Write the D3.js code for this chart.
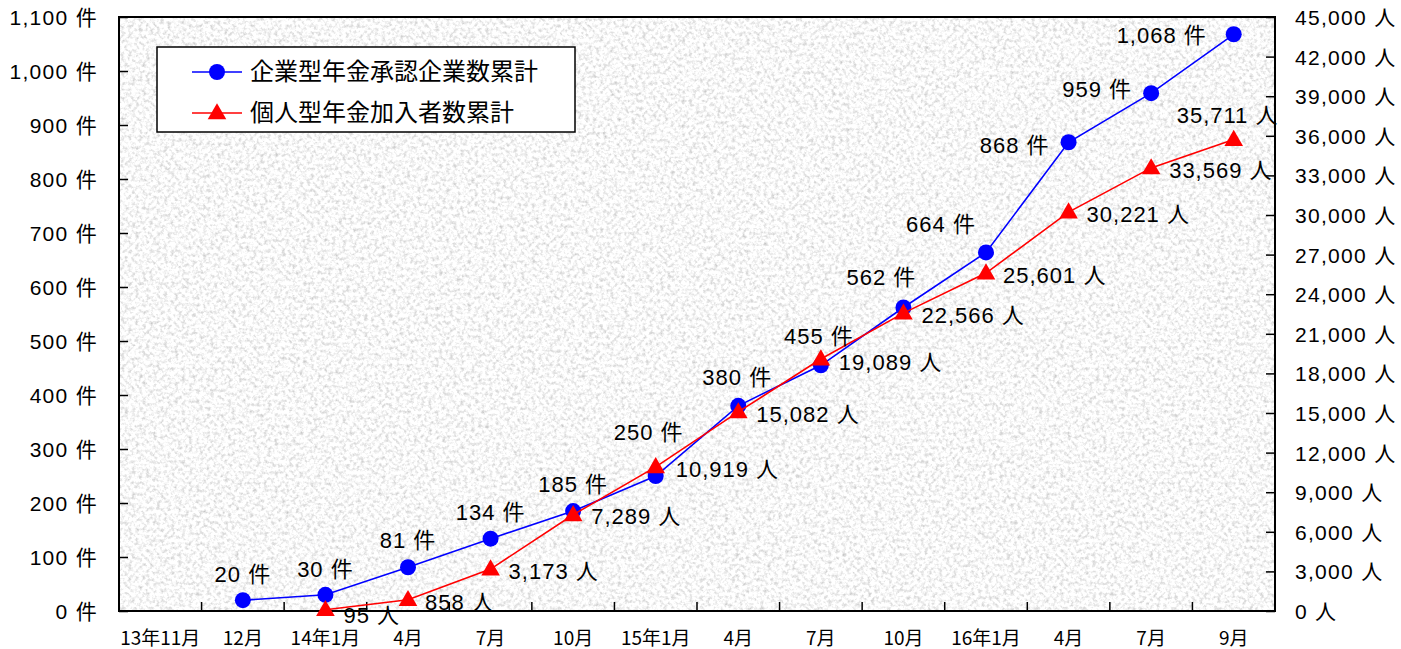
<!DOCTYPE html>
<html>
<head>
<meta charset="utf-8">
<script src="https://cdn.jsdelivr.net/npm/d3@7"></script>
<style>
  body { margin: 0; background: #fff; }
  svg text { font-family: "Liberation Sans", Arial, "Noto Sans CJK JP", sans-serif; fill: #000; }
</style>
</head>
<body>
<div id="chart"></div>
<script>
const categories = ["13年11月", "12月", "14年1月", "4月", "7月", "10月", "15年1月", "4月", "7月", "10月", "16年1月", "4月", "7月", "9月"];
// 企業型年金承認企業数累計 (件)
const companyCounts = [null, 20, 30, 81, 134, 185, 250, 380, 455, 562, 664, 868, 959, 1068];
// 個人型年金加入者数累計 (人)
const memberCounts = [null, null, 95, 858, 3173, 7289, 10919, 15082, 19089, 22566, 25601, 30221, 33569, 35711];

const leftTicks = [0, 100, 200, 300, 400, 500, 600, 700, 800, 900, 1000, 1100];
const rightTicks = [0, 3000, 6000, 9000, 12000, 15000, 18000, 21000, 24000, 27000, 30000, 33000, 36000, 39000, 42000, 45000];

const seriesNames = ["企業型年金承認企業数累計", "個人型年金加入者数累計"];

// label nudges (dx, dy) relative to the point, per category
const companyLabelShift = [null, [0, -18], [0, -18], [0, -19], [0, -19], [0, -19], [-7, -36], [-1, -21], [-2, -21],
  [-22, -23], [-45, -20], [-54, 11], [-54, 4], [-72, 9]];
const memberLabelShift = [null, null, [18, 13], [17, 10], [18, 10], [18, 9], [20, 10], [18, 10], [18, 11],
  [18, 10], [17, 10], [18, 10], [18, 10], [-57, -17]];

const width = 1401, height = 649;
const plotL = 119, plotR = 1275, plotT = 17, plotB = 611;

const fmt = d3.format(",");

const svg = d3.select("#chart").append("svg")
  .attr("width", width)
  .attr("height", height);

// granite-ish texture for the plot area
const defs = svg.append("defs");
const filter = defs.append("filter")
  .attr("id", "granite")
  .attr("x", 0).attr("y", 0).attr("width", "100%").attr("height", "100%")
  .attr("color-interpolation-filters", "sRGB");
filter.append("feTurbulence")
  .attr("type", "fractalNoise")
  .attr("baseFrequency", 0.28)
  .attr("numOctaves", 3)
  .attr("seed", 7)
  .attr("result", "noise");
filter.append("feColorMatrix")
  .attr("in", "noise")
  .attr("type", "matrix")
  .attr("values", "-0.45 0 0 0 1.2  -0.45 0 0 0 1.2  -0.45 0 0 0 1.2  0 0 0 0 1");

svg.append("rect")
  .attr("x", plotL).attr("y", plotT)
  .attr("width", plotR - plotL).attr("height", plotB - plotT)
  .attr("filter", "url(#granite)");

const x = d3.scaleBand()
  .domain(d3.range(categories.length))
  .range([plotL, plotR]);

const yL = d3.scaleLinear().domain([0, 1100]).range([plotB, plotT]);
const yR = d3.scaleLinear().domain([0, 45000]).range([plotB, plotT]);

const cx = i => x(i) + x.bandwidth() / 2;

// left axis
const gL = svg.append("g")
  .attr("transform", `translate(${plotL},0)`)
  .call(d3.axisLeft(yL).tickValues(leftTicks).tickSize(-9).tickPadding(21)
    .tickFormat(d => fmt(d) + " 件"));
gL.select(".domain").remove();
gL.selectAll("line").attr("stroke", "#000").attr("stroke-width", 1.5);
gL.selectAll("text").style("font-size", "21px").style("letter-spacing", "1.3px")
  .attr("dy", "0.36em");

// right axis
const gR = svg.append("g")
  .attr("transform", `translate(${plotR},0)`)
  .call(d3.axisRight(yR).tickValues(rightTicks).tickSize(-9).tickPadding(20)
    .tickFormat(d => fmt(d) + " 人"));
gR.select(".domain").remove();
gR.selectAll("line").attr("stroke", "#000").attr("stroke-width", 1.5);
gR.selectAll("text").style("font-size", "21px").style("letter-spacing", "1.3px")
  .attr("dy", "0.36em");

// bottom axis: ticks at category boundaries, labels at centers
const gX = svg.append("g");
gX.selectAll("line.tick")
  .data(d3.range(1, categories.length))
  .join("line")
  .attr("class", "tick")
  .attr("x1", i => x(i)).attr("x2", i => x(i))
  .attr("y1", plotB).attr("y2", plotB - 9)
  .attr("stroke", "#000").attr("stroke-width", 1.5);
gX.selectAll("text")
  .data(categories)
  .join("text")
  .attr("x", (d, i) => cx(i))
  .attr("y", 645)
  .attr("text-anchor", "middle")
  .style("font-family", "'Noto Sans CJK JP', sans-serif")
  .style("font-size", "19px")
  .text(d => d);

// plot border
svg.append("rect")
  .attr("x", plotL).attr("y", plotT)
  .attr("width", plotR - plotL).attr("height", plotB - plotT)
  .attr("fill", "none").attr("stroke", "#000").attr("stroke-width", 2);

const tri = d3.symbol().type(d3.symbolTriangle).size(150);

// company series
const companyPts = companyCounts.map((v, i) => ({ i, v })).filter(d => d.v != null);
svg.append("path")
  .datum(companyPts)
  .attr("fill", "none").attr("stroke", "#0000ff").attr("stroke-width", 1.6)
  .attr("d", d3.line().x(d => cx(d.i)).y(d => yL(d.v)));
svg.append("g").selectAll("circle")
  .data(companyPts)
  .join("circle")
  .attr("cx", d => cx(d.i)).attr("cy", d => yL(d.v))
  .attr("r", 8).attr("fill", "#0000ff");

// member series
const memberPts = memberCounts.map((v, i) => ({ i, v })).filter(d => d.v != null);
svg.append("path")
  .datum(memberPts)
  .attr("fill", "none").attr("stroke", "#ff0000").attr("stroke-width", 1.6)
  .attr("d", d3.line().x(d => cx(d.i)).y(d => yR(d.v)));
svg.append("g").selectAll("path")
  .data(memberPts)
  .join("path")
  .attr("transform", d => `translate(${cx(d.i)},${yR(d.v) + 1})`)
  .attr("d", tri)
  .attr("fill", "#ff0000");

// data labels
svg.append("g").selectAll("text")
  .data(companyPts)
  .join("text")
  .attr("x", d => cx(d.i) + companyLabelShift[d.i][0])
  .attr("y", d => yL(d.v) + companyLabelShift[d.i][1])
  .attr("text-anchor", "middle")
  .style("font-size", "22px").style("letter-spacing", "1px")
  .text(d => fmt(d.v) + " 件");

svg.append("g").selectAll("text")
  .data(memberPts)
  .join("text")
  .attr("x", d => cx(d.i) + memberLabelShift[d.i][0])
  .attr("y", d => yR(d.v) + memberLabelShift[d.i][1])
  .attr("text-anchor", "start")
  .style("font-size", "22px").style("letter-spacing", "1px")
  .text(d => fmt(d.v) + " 人");

// legend
const lg = svg.append("g");
lg.append("rect")
  .attr("x", 157).attr("y", 47).attr("width", 418).attr("height", 85)
  .attr("fill", "#fff").attr("stroke", "#000").attr("stroke-width", 1.5);
const colors = ["#0000ff", "#ff0000"];
seriesNames.forEach((name, k) => {
  const ly = 72 + k * 41;
  lg.append("line")
    .attr("x1", 192).attr("x2", 242).attr("y1", ly).attr("y2", ly)
    .attr("stroke", colors[k]).attr("stroke-width", 1.6);
  if (k === 0) {
    lg.append("circle").attr("cx", 217).attr("cy", ly).attr("r", 8).attr("fill", colors[k]);
  } else {
    lg.append("path").attr("transform", `translate(217,${ly + 1})`).attr("d", tri).attr("fill", colors[k]);
  }
  lg.append("text")
    .attr("x", 250).attr("y", ly + 8)
    .style("font-family", "'Noto Sans CJK JP', sans-serif")
    .style("font-size", "24px")
    .text(name);
});
</script>
</body>
</html>
